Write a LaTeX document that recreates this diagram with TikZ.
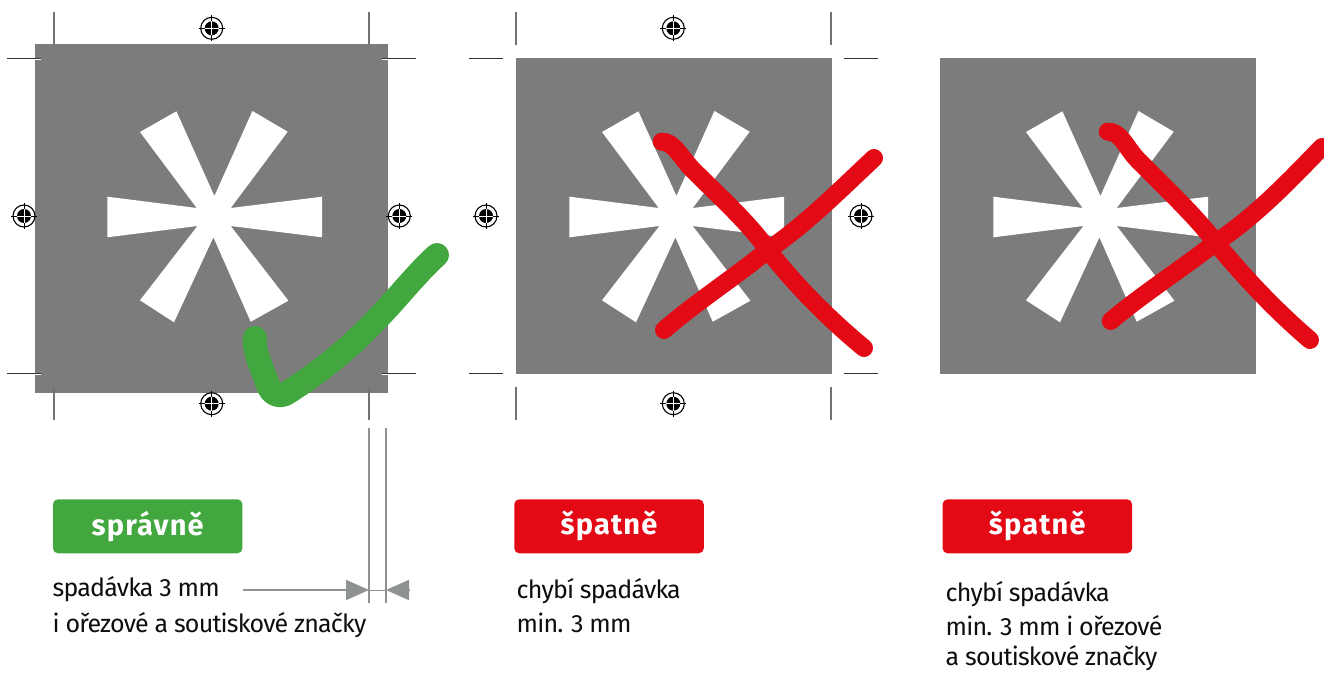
\documentclass[tikz,border=0pt]{standalone}
\usepackage{fontspec}
\usetikzlibrary{arrows.meta}
\setmainfont{Fira Sans}

\definecolor{panelgray}{HTML}{7C7C7C}
\definecolor{okgreen}{HTML}{42A73F}
\definecolor{badred}{HTML}{E30A16}
\definecolor{rulegray}{HTML}{8F9292}

\newcommand{\starshape}[1]{
	\fill[white,shift={#1}] (-38.3,-105.7) -- (-0.3,-21) -- (37.7,-106) -- (73,-85.3) -- (16,-9)
	-- (107.3,-20.3) -- (107.3,20.3) -- (16,9) -- (73.7,83.7) -- (36,104.7) -- (-1.3,20.3)
	-- (-40.7,105.3) -- (-74.7,83.3) -- (-17.3,9) -- (-107.3,20.3) -- (-107.3,-20.3)
	-- (-18,-9) -- (-74.7,-85) -- cycle;
}

\begin{document}
\begin{tikzpicture}[
		x=1pt,y=-1pt,
		panel/.style={fill=panelgray},
		cropv/.style={preaction={draw=white,line width=2.4pt},draw=black!55,line width=1.4pt},
		croph/.style={preaction={draw=white,line width=2.4pt},draw=black!80,line width=1pt},
		okstroke/.style={draw=okgreen,line width=24pt,line cap=round,line join=round},
		badstroke/.style={draw=badred,line width=18pt,line cap=round,line join=round},
		badge/.style={rounded corners=5pt,minimum width=189.5pt,minimum height=54pt,text=white,
			font=\fontsize{29}{29}\selectfont\bfseries\addfontfeature{LetterSpace=4}},
		caption/.style={anchor=north west,inner sep=0pt,align=left,text=black!95,
			font=\fontsize{25}{34.5}\selectfont\addfontfeature{LetterSpace=-3.2}},
		dimline/.style={draw=rulegray,line width=1.8pt},
		dimarrow/.style={draw=rulegray,line width=1.8pt,-{Triangle[length=23pt,width=20pt]}},
		regmark/.pic={
			\fill[black] (0,0) circle (7);
			\draw[black,line width=1.1pt] (0,0) circle (11);
			\draw[black,line width=0.8pt] (-13,0) -- (13,0) (0,-13) -- (0,13);
			\draw[white,line width=0.9pt] (-7,0) -- (7,0) (0,-7) -- (0,7);
		}
		]
		\useasboundingbox (0,0) rectangle (1324,672);

		% panels
		\fill[panel] (35,44) rectangle (388,393);
		\fill[panel] (516,58) rectangle (832,374);
		\fill[panel] (940,58) rectangle (1256,374);
		\starshape{(214.7,217)}
		\starshape{(676.7,217)}
		\starshape{(1100.7,217)}

		% crop marks
		\foreach \x in {54,369,516,831} {
			\draw[cropv] (\x,12) -- (\x,45);
			\draw[cropv] (\x,387) -- (\x,420);
		}
		\foreach \y in {58.7,373.7} {
			\draw[croph] (7.3,\y) -- (41,\y);
			\draw[croph] (382,\y) -- (416,\y);
			\draw[croph] (469.3,\y) -- (502.7,\y);
			\draw[croph] (844.3,\y) -- (877.7,\y);
		}

		% registration marks
		\foreach \x/\y in {211.7/28.3,211.7/403.7,24/216,399.3/216,
			673.3/28.3,673.3/403.7,486/216,861/216} {
			\pic at (\x,\y) {regmark};
		}

		% strokes
		\draw[okstroke] (255,338) .. controls (253,350) and (262,368) .. (268,385)
			.. controls (271,394) and (279,398) .. (287,393)
			.. controls (320,372) and (350,348) .. (380,316)
			.. controls (400,295) and (418,272) .. (437,255);
		\draw[badstroke] (661.7,141.7) .. controls (674,141) and (682,160) .. (695,172)
			.. controls (720,197) and (748,222) .. (768,250)
			.. controls (795,285) and (830,320) .. (864,348);
		\draw[badstroke] (664,330) .. controls (695,303) and (735,277) .. (768,250)
			.. controls (805,225) and (840,190) .. (874,158);
		\draw[badstroke] (1107.7,131.7) .. controls (1120,131) and (1126,147) .. (1136,158)
			.. controls (1162,185) and (1195,215) .. (1215,242)
			.. controls (1245,278) and (1275,310) .. (1310,340);
		\draw[badstroke] (1110.7,321) .. controls (1140,296) and (1180,270) .. (1215,243)
			.. controls (1255,217) and (1290,180) .. (1322,147);

		% badges
		\node[badge,fill=okgreen](B1) at (147.7,526.3){správně};
		\node[badge,fill=badred](B2) at (609,526.3){špatně};
		\node[badge,fill=badred](B3) at (1037.3,526.3){špatně};

		% captions
		\node[caption](C1) at (52.5,576){spadávka 3 mm\\[2pt]i ořezové a soutiskové značky};
		\node[caption](C2) at (516.5,578){chybí spadávka\\min. 3 mm};
		\node[caption](C3) at (945.5,581){chybí spadávka\\[-0.5pt]min. 3 mm i ořezové\\[-4pt]a soutiskové značky};

		% bleed dimension
		\coordinate (D1) at (369,428);
		\coordinate (D2) at (369,603);
		\coordinate (D3) at (386,428);
		\coordinate (D4) at (386,603);
		\coordinate (A1) at (242.5,590);
		\coordinate (A2) at (369,590);
		\coordinate (A3) at (409,590);
		\coordinate (A4) at (386,590);
		\draw[dimline] (D1) -- (D2);
		\draw[dimline] (D3) -- (D4);
		\draw[dimline,line width=1pt] (A2) -- (A4);
		\draw[dimarrow] (A1) -- (A2);
		\draw[dimarrow] (A3) -- (A4);
	\end{tikzpicture}
\end{document}
